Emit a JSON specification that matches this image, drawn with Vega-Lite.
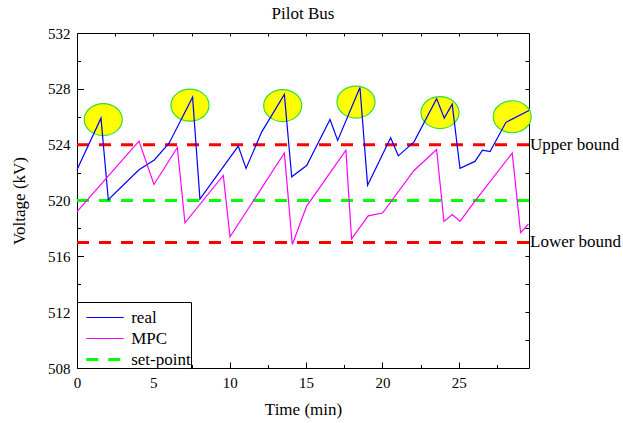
{
  "$schema": "https://vega.github.io/schema/vega-lite/v6.json",
  "width": 452,
  "height": 335,
  "autosize": "none",
  "padding": {"left": 77, "top": 33, "right": 94, "bottom": 55},
  "background": "white",
  "title": {"text": "Pilot Bus", "font": "Liberation Serif", "fontSize": 17, "fontWeight": "normal", "color": "black", "offset": 3, "anchor": "middle"},
  "config": {
    "view": {"stroke": null},
    "axis": {"domainColor": "black", "domainWidth": 1, "tickColor": "black", "tickWidth": 1, "labelFont": "Liberation Serif", "labelFontSize": 15, "labelColor": "black", "titleFont": "Liberation Serif", "titleFontSize": 17, "titleFontWeight": "normal", "titleColor": "black", "grid": false, "labelOverlap": false, "labelFlush": false}
  },
  "datasets": {
    "bounds": [
      {"v": 524, "label": "Upper bound"},
      {"v": 517, "label": "Lower bound"}
    ],
    "ellipses": [
      {"t": 1.72, "v": 525.8},
      {"t": 7.40, "v": 526.83},
      {"t": 13.47, "v": 526.8},
      {"t": 18.27, "v": 527.05},
      {"t": 23.77, "v": 526.3},
      {"t": 28.5, "v": 526.0}
    ],
    "setpoint": [
      {"series": "set-point", "t": 0, "v": 520},
      {"series": "set-point", "t": 29.6, "v": 520}
    ],
    "series": [
      {"series": "real", "t": 0, "v": 522.2},
      {"series": "real", "t": 1.57, "v": 525.9},
      {"series": "real", "t": 2.05, "v": 520.05},
      {"series": "real", "t": 4.06, "v": 522.2},
      {"series": "real", "t": 5.06, "v": 522.9},
      {"series": "real", "t": 6.03, "v": 524.1},
      {"series": "real", "t": 7.57, "v": 527.4},
      {"series": "real", "t": 8.05, "v": 520.1},
      {"series": "real", "t": 10.56, "v": 523.9},
      {"series": "real", "t": 11.07, "v": 522.3},
      {"series": "real", "t": 12.09, "v": 524.9},
      {"series": "real", "t": 13.58, "v": 527.6},
      {"series": "real", "t": 14.06, "v": 521.7},
      {"series": "real", "t": 15.04, "v": 522.5},
      {"series": "real", "t": 16.57, "v": 525.8},
      {"series": "real", "t": 17.07, "v": 524.3},
      {"series": "real", "t": 18.53, "v": 528.1},
      {"series": "real", "t": 19.03, "v": 521.1},
      {"series": "real", "t": 20.54, "v": 524.5},
      {"series": "real", "t": 21.04, "v": 523.2},
      {"series": "real", "t": 22.07, "v": 524.2},
      {"series": "real", "t": 23.55, "v": 527.3},
      {"series": "real", "t": 24.05, "v": 525.9},
      {"series": "real", "t": 24.57, "v": 526.9},
      {"series": "real", "t": 25.08, "v": 522.3},
      {"series": "real", "t": 26.06, "v": 522.8},
      {"series": "real", "t": 26.56, "v": 523.6},
      {"series": "real", "t": 27.05, "v": 523.5},
      {"series": "real", "t": 28.09, "v": 525.6},
      {"series": "real", "t": 29.6, "v": 526.45},
      {"series": "MPC", "t": 0, "v": 519.2},
      {"series": "MPC", "t": 4.06, "v": 524.25},
      {"series": "MPC", "t": 5.04, "v": 521.15},
      {"series": "MPC", "t": 6.57, "v": 523.8},
      {"series": "MPC", "t": 7.07, "v": 518.4},
      {"series": "MPC", "t": 9.58, "v": 521.8},
      {"series": "MPC", "t": 10.02, "v": 517.4},
      {"series": "MPC", "t": 13.58, "v": 523.4},
      {"series": "MPC", "t": 14.1, "v": 516.85},
      {"series": "MPC", "t": 15.04, "v": 519.6},
      {"series": "MPC", "t": 17.61, "v": 523.6},
      {"series": "MPC", "t": 17.98, "v": 517.25},
      {"series": "MPC", "t": 19.07, "v": 518.9},
      {"series": "MPC", "t": 20.01, "v": 519.1},
      {"series": "MPC", "t": 22.07, "v": 522.15},
      {"series": "MPC", "t": 23.55, "v": 523.65},
      {"series": "MPC", "t": 24.03, "v": 518.5},
      {"series": "MPC", "t": 24.58, "v": 519.0},
      {"series": "MPC", "t": 25.08, "v": 518.5},
      {"series": "MPC", "t": 26.06, "v": 519.95},
      {"series": "MPC", "t": 28.5, "v": 523.4},
      {"series": "MPC", "t": 29.05, "v": 517.7},
      {"series": "MPC", "t": 29.56, "v": 518.3}
    ]
  },
  "layer": [
    {
      "data": {"name": "bounds"},
      "mark": {"type": "rule", "color": "#ff0000", "strokeWidth": 3, "strokeDash": [12, 10]},
      "encoding": {
        "y": {"field": "v", "type": "quantitative", "scale": {"domain": [508, 532], "nice": false, "zero": false}, "axis": null}
      }
    },
    {
      "data": {"name": "bounds"},
      "mark": {"type": "text", "align": "left", "baseline": "middle", "dx": 1, "font": "Liberation Serif", "fontSize": 17, "color": "black"},
      "encoding": {
        "x": {"value": "width"},
        "y": {"field": "v", "type": "quantitative", "scale": {"domain": [508, 532], "nice": false, "zero": false}, "axis": null},
        "text": {"field": "label"}
      }
    },
    {
      "data": {"name": "setpoint"},
      "mark": {"type": "line", "strokeWidth": 3, "strokeDash": [12, 10]},
      "encoding": {
        "x": {"field": "t", "type": "quantitative", "scale": {"domain": [0, 29.6], "nice": false, "zero": false}, "axis": null},
        "y": {"field": "v", "type": "quantitative", "scale": {"domain": [508, 532], "nice": false, "zero": false}, "axis": null},
        "color": {"field": "series", "type": "nominal", "scale": {"domain": ["real", "MPC", "set-point"], "range": ["#0000ff", "#ff00ff", "#00ff00"]}}
      }
    },
    {
      "data": {"name": "ellipses"},
      "mark": {"type": "point", "shape": "M1,0 C1,0.465 0.5523,0.842 0,0.842 C-0.5523,0.842 -1,0.465 -1,0 C-1,-0.465 -0.5523,-0.842 0,-0.842 C0.5523,-0.842 1,-0.465 1,0 Z", "size": 1444, "filled": true, "fill": "#ffff00", "stroke": "#33dd33", "strokeWidth": 1.2, "opacity": 1, "fillOpacity": 1},
      "encoding": {
        "x": {"field": "t", "type": "quantitative", "scale": {"domain": [0, 29.6], "nice": false, "zero": false},
          "axis": {"orient": "top", "values": [2.5, 5, 7.5, 10, 12.5, 15, 17.5, 20, 22.5, 25, 27.5], "tickSize": -3, "labels": false, "title": null}},
        "y": {"field": "v", "type": "quantitative", "scale": {"domain": [508, 532], "nice": false, "zero": false},
          "axis": {"orient": "right", "values": [510, 512, 514, 516, 518, 520, 522, 524, 526, 528, 530], "tickSize": -4, "labels": false, "title": null}}
      }
    },
    {
      "data": {"name": "series"},
      "mark": {"type": "line", "strokeWidth": 1.2},
      "encoding": {
        "x": {"field": "t", "type": "quantitative", "scale": {"domain": [0, 29.6], "nice": false, "zero": false},
          "axis": {"orient": "bottom", "values": [0, 2.5, 5, 7.5, 10, 12.5, 15, 17.5, 20, 22.5, 25, 27.5], "labelExpr": "datum.value % 5 === 0 ? datum.label : ''",
            "tickSize": {"condition": {"test": "datum.value % 5 === 0", "value": -6}, "value": -3.5},
            "labelPadding": 13, "title": "Time (min)", "titleX": 226, "titleY": 41, "titleBaseline": "middle"}},
        "y": {"field": "v", "type": "quantitative", "scale": {"domain": [508, 532], "nice": false, "zero": false},
          "axis": {"orient": "left", "values": [508, 510, 512, 514, 516, 518, 520, 522, 524, 526, 528, 530, 532], "labelExpr": "datum.value % 4 === 0 ? datum.label : ''",
            "tickSize": {"condition": {"test": "datum.value % 4 === 0", "value": -6.5}, "value": -3.5},
            "labelPadding": 13.5, "title": "Voltage (kV)", "titleX": -58, "titleY": 167.5, "titleBaseline": "middle", "titleAngle": -90, "titleAlign": "center"}},
        "color": {"field": "series", "type": "nominal", "scale": {"domain": ["real", "MPC", "set-point"], "range": ["#0000ff", "#ff00ff", "#00ff00"]},
          "legend": {"title": " ", "titleFontSize": 1, "titlePadding": 6, "orient": "bottom-left", "offset": 0, "padding": 0, "strokeColor": "black", "fillColor": "white",
            "symbolType": "stroke", "symbolSize": 1400, "symbolStrokeWidth": 1.2, "symbolOffset": 19.5, "clipHeight": 17,
            "labelFont": "Liberation Serif", "labelFontSize": 17, "labelColor": "black", "rowPadding": 3, "labelOffset": 17.7,
            "labelExpr": "datum.label + '\u00a0\u00a0'",
            "encode": {
              "symbols": {"update": {
                "strokeDash": {"signal": "datum.value === 'set-point' ? [12, 10] : [1, 0]"},
                "strokeWidth": {"signal": "datum.value === 'set-point' ? 3 : 1.2"}
              }}
            }}}
      }
    }
  ],
  "resolve": {"axis": {"x": "independent", "y": "independent"}}
}
